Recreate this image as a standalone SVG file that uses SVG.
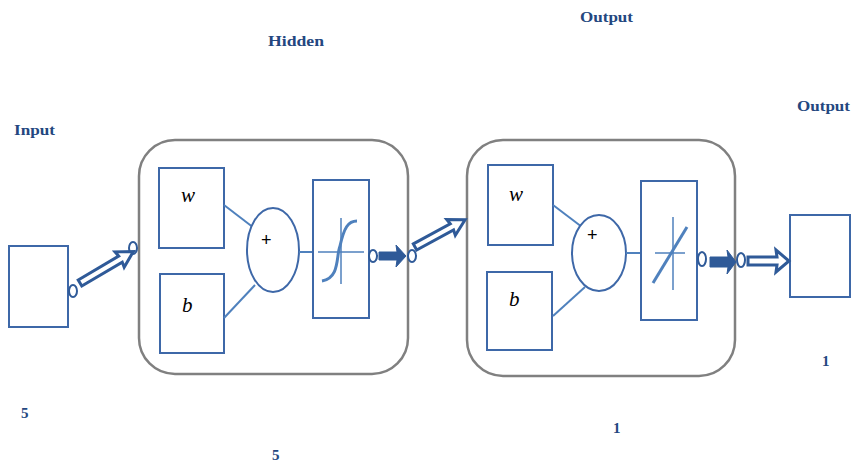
<svg xmlns="http://www.w3.org/2000/svg" width="853" height="463" viewBox="0 0 853 463">
<style>
.lbl{font-family:"Liberation Serif",serif;font-weight:bold;font-size:15px;fill:#24477f}
.var{font-family:"Liberation Serif",serif;font-style:italic;font-size:21px;fill:#000}
.plus{font-family:"Liberation Sans",sans-serif;font-size:18px;fill:#000}
.box{fill:#fff;stroke:#3e68a8;stroke-width:2}
.layer{fill:#fff;stroke:#808080;stroke-width:2.5}
.wire{stroke:#4f81bd;stroke-width:2;fill:none}
.thin{stroke:#4f81bd;stroke-width:1.5;fill:none}
.curve{stroke:#4f81bd;stroke-width:3;fill:none}
.port{fill:#fff;stroke:#2f5a98;stroke-width:2}
.hollow{fill:#fff;stroke:#2f5a98;stroke-width:3;stroke-linejoin:miter}
.solid{fill:#2f5a98;stroke:#2f5a98;stroke-width:1}
</style>
<rect width="853" height="463" fill="#fff"/>

<g id="labels">
<text class="lbl" x="14" y="135" textLength="41" lengthAdjust="spacingAndGlyphs">Input</text>
<text class="lbl" x="268" y="46" textLength="56" lengthAdjust="spacingAndGlyphs">Hidden</text>
<text class="lbl" x="580" y="22" textLength="53" lengthAdjust="spacingAndGlyphs">Output</text>
<text class="lbl" x="797" y="111" textLength="53" lengthAdjust="spacingAndGlyphs">Output</text>
<text class="lbl" x="21" y="418">5</text>
<text class="lbl" x="272" y="460">5</text>
<text class="lbl" x="613" y="433">1</text>
<text class="lbl" x="822" y="366">1</text>
</g>

<g id="input">
<rect class="box" x="9" y="246" width="59" height="81"/>
<ellipse class="port" cx="73" cy="291" rx="4" ry="6"/>
</g>

<g id="hidden">
<rect class="layer" x="139" y="140" width="269" height="234" rx="36"/>
<rect class="box" x="159" y="168" width="65" height="80"/>
<text class="var" x="181" y="202">w</text>
<rect class="box" x="160" y="274" width="64" height="79"/>
<text class="var" x="182" y="312">b</text>
<line class="wire" x1="224" y1="205" x2="254" y2="228"/>
<line class="wire" x1="224" y1="318" x2="255" y2="285"/>
<ellipse class="box" cx="273" cy="250" rx="26" ry="42"/>
<text class="plus" x="261" y="246">+</text>
<line class="wire" x1="299" y1="252" x2="313" y2="252"/>
<rect class="box" x="313" y="180" width="56" height="138"/>
<line class="thin" x1="341" y1="218" x2="341" y2="284"/>
<line class="thin" x1="318" y1="252" x2="364" y2="252"/>
<path class="curve" d="M322,281 C340,278 336,256 340,246 C344,228 348,221 357,221"/>
<ellipse class="port" cx="373" cy="256" rx="4" ry="6"/>
<ellipse class="port" cx="133" cy="248" rx="4" ry="6"/>
</g>

<g id="output-layer">
<rect class="layer" x="467" y="140" width="268" height="236" rx="36"/>
<rect class="box" x="488" y="165" width="65" height="80"/>
<text class="var" x="509" y="201">w</text>
<rect class="box" x="487" y="272" width="65" height="78"/>
<text class="var" x="509" y="306">b</text>
<line class="wire" x1="553" y1="205" x2="582" y2="227"/>
<line class="wire" x1="553" y1="316" x2="585" y2="287"/>
<ellipse class="box" cx="599" cy="253" rx="27" ry="38"/>
<text class="plus" x="587" y="241">+</text>
<line class="wire" x1="626" y1="253" x2="641" y2="253"/>
<rect class="box" x="641" y="181" width="56" height="139"/>
<line class="thin" x1="673" y1="217" x2="673" y2="290"/>
<line class="thin" x1="655" y1="253" x2="685" y2="253"/>
<line class="curve" x1="653" y1="283" x2="687" y2="227"/>
<ellipse class="port" cx="702" cy="259" rx="4" ry="7"/>
<ellipse class="port" cx="412" cy="256" rx="4" ry="6"/>
</g>

<g id="output">
<rect class="box" x="790" y="215" width="60" height="82"/>
<ellipse class="port" cx="741" cy="260" rx="4" ry="7"/>
</g>

<g id="connectors">
<path class="hollow" transform="translate(80,283) rotate(-30.6)" d="M0,-3.5 L47,-3.5 L46,-9 L62,0 L46,9 L47,3.5 L0,3.5 Z"/>
<path class="hollow" transform="translate(415,247) rotate(-28.5)" d="M0,-3.5 L42,-3.5 L41,-9 L57,0 L41,9 L42,3.5 L0,3.5 Z"/>
<path class="solid" d="M379,252 L397,252 L396,245 L406,256 L396,267 L397,260 L379,260 Z"/>
<path class="solid" d="M710,257 L728,257 L727,250 L736,262 L727,274 L728,267 L710,267 Z"/>
<path class="hollow" d="M748,257 L777,257 L776,250 L789,261 L776,272 L777,265 L748,265 Z"/>
</g>
</svg>
